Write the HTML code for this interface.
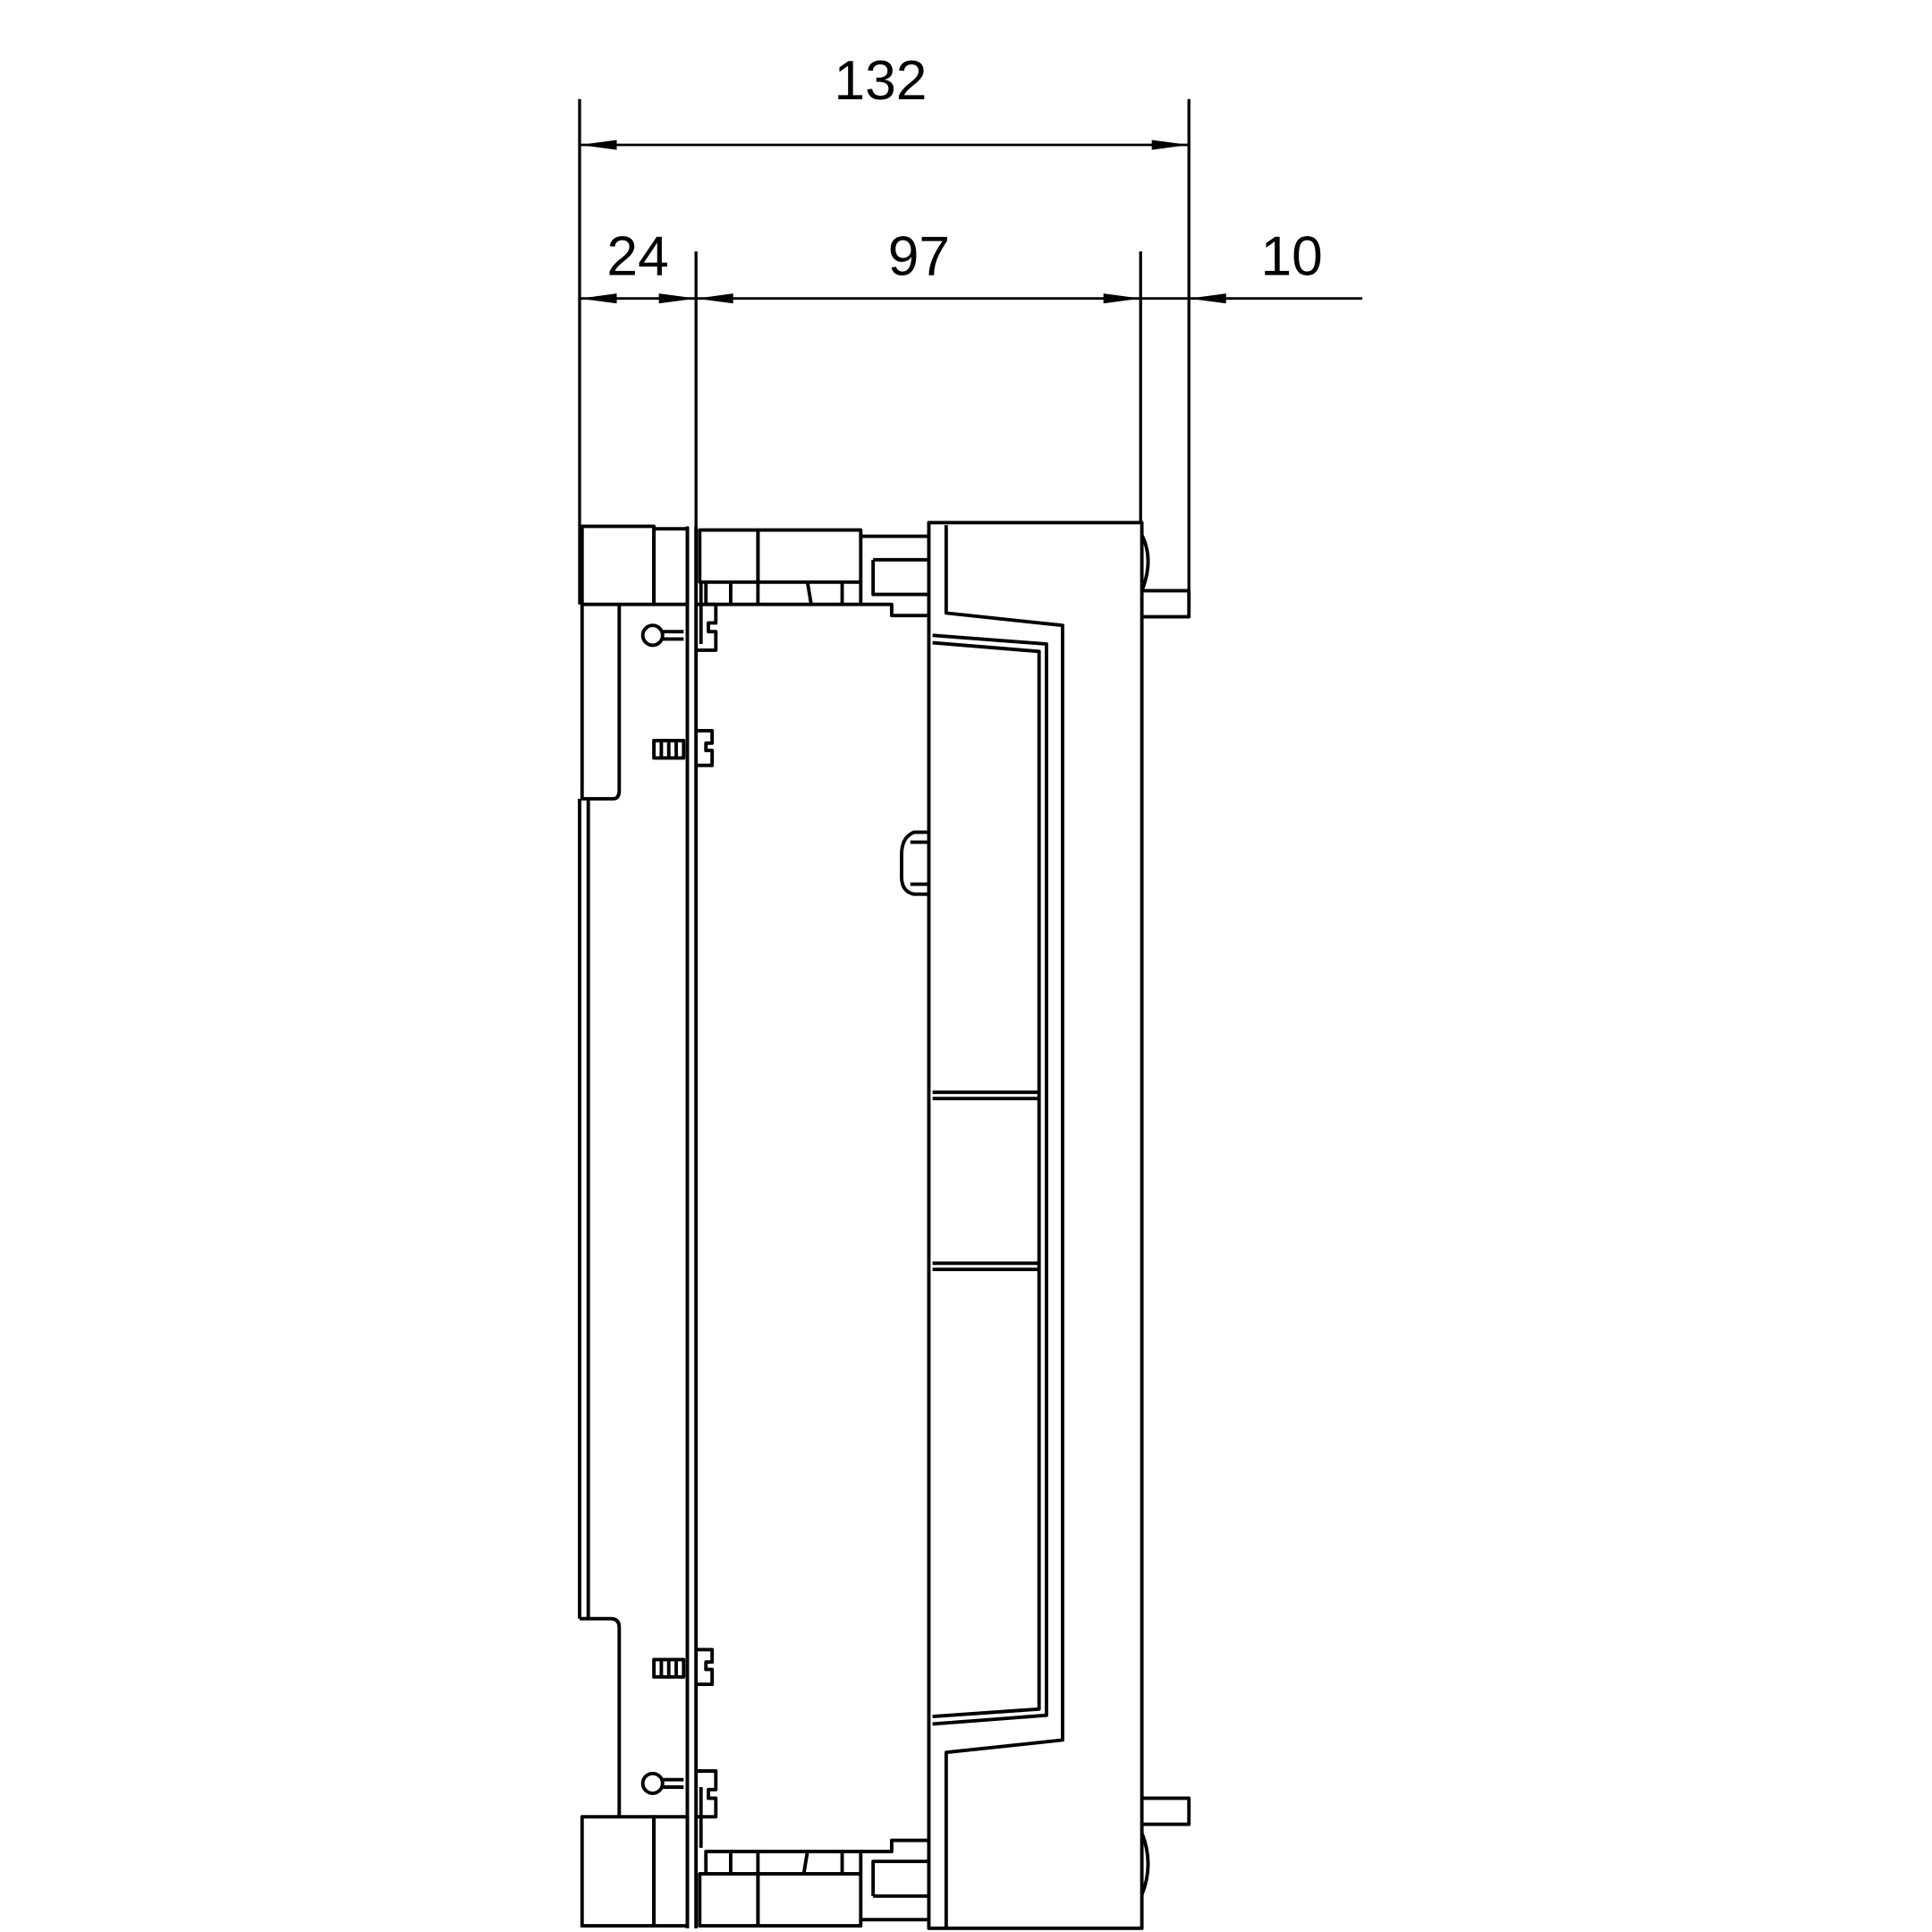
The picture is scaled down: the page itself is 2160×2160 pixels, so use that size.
<!DOCTYPE html>
<html><head><meta charset="utf-8"><style>
html,body{margin:0;padding:0;background:#fff;}
svg{display:block;}
text{font-family:"Liberation Sans","DejaVu Sans",sans-serif;font-size:45px;fill:#000;}
</style></head><body>
<svg width="2160" height="2160" viewBox="0 0 1560 1560" xmlns="http://www.w3.org/2000/svg">
<g fill="none" stroke="#000" stroke-width="2.4" stroke-linejoin="round">
<line x1="468" y1="80" x2="468" y2="488"/>
<line x1="960" y1="80" x2="960" y2="498"/>
<line x1="562" y1="203" x2="562" y2="425"/>
<line x1="921" y1="203" x2="921" y2="422"/>
<line x1="468" y1="117" x2="960" y2="117" stroke-width="2"/>
<line x1="468" y1="241" x2="1100" y2="241" stroke-width="2"/>
</g>
<g fill="#000" stroke="none">
<polygon points="468,117 498,113 498,121"/>
<polygon points="960,117 930,113 930,121"/>
<polygon points="468,241 498,237 498,245"/>
<polygon points="562,241 532,237 532,245"/>
<polygon points="562,241 592,237 592,245"/>
<polygon points="921,241 891,237 891,245"/>
<polygon points="960,241 990,237 990,245"/>
</g>
<text x="711" y="80" text-anchor="middle">132</text>
<text x="515" y="222" text-anchor="middle">24</text>
<text x="742" y="222" text-anchor="middle">97</text>
<text x="1043" y="222" text-anchor="middle">10</text>

<g fill="none" stroke="#000" stroke-width="2.8" stroke-linejoin="round">
<rect x="470" y="425" width="58" height="63"/>
<rect x="528" y="427" width="27" height="61"/>
<path d="M470 488 V645 H495 Q500 645 500 638 V488"/>
<line x1="468" y1="645" x2="468" y2="1307"/>
<line x1="475" y1="645" x2="475" y2="1307"/>
<path d="M468 1307 H493 Q500 1307 500 1314 V1467"/>
<rect x="470" y="1467" width="58" height="88"/>
<rect x="528" y="1467" width="27" height="88"/>
<line x1="555" y1="425" x2="555" y2="1557"/>
<line x1="562" y1="425" x2="562" y2="1557"/>
<line x1="566" y1="470" x2="566" y2="520"/>
<line x1="566" y1="1443" x2="566" y2="1492"/>
<circle cx="527" cy="513" r="8"/>
<path d="M535 510 H552 M535 516 H552"/>
<path d="M562 488 H578 V503 H572 V510 H578 V525 H562"/>
<circle cx="527" cy="1440" r="8"/>
<path d="M535 1437 H552 M535 1443 H552"/>
<path d="M562 1430 H578 V1445 H572 V1452 H578 V1467 H562"/>
<path d="M528 598 H552 V612 H528 Z M534 598 V612 M540 598 V612 M546 598 V612"/>
<path d="M562 590 H575 V600 H570 V606 H575 V618 H562"/>
<path d="M528 1340 H552 V1354 H528 Z M534 1340 V1354 M540 1340 V1354 M546 1340 V1354"/>
<path d="M562 1332 H575 V1342 H570 V1348 H575 V1360 H562"/>
<rect x="565" y="428" width="47" height="42"/>
<rect x="612" y="428" width="83" height="42"/>
<path d="M570 470 V488 H695 V470 M590 470 V488 M612 470 V488 M652 470 L655 488 M680 470 V488"/>
<path d="M695 433 H750 M705 452 H750 M705 452 V480 H750 M695 488 H720 V497 H750"/>
<rect x="565" y="1513" width="47" height="42"/>
<rect x="612" y="1513" width="83" height="42"/>
<path d="M570 1513 V1495 H695 V1513 M590 1495 V1513 M612 1495 V1513 M652 1495 L649 1513 M680 1495 V1513"/>
<path d="M695 1550 H750 M705 1531 H750 M705 1531 V1503 H750 M695 1495 H720 V1486 H750"/>
<path d="M750 422 L922 422 L922 1557 L750 1557 Z"/>
<path d="M764 424 V495 L858 505 V1405 L764 1415 V1557"/>
<path d="M753 513 L845 520 V1385 L753 1392"/>
<path d="M753 519 L839 526 V1380 L753 1386"/>
<path d="M753 882 H839 M753 887 H839 M753 1020 H839 M753 1025 H839"/>
<path d="M750 672 H738 Q728 676 728 690 V708 Q728 720 738 722 H750 M735 680 H750 M735 714 H750"/>
<path d="M922 477 H960 V498 H922"/>
<path d="M922 432 Q932 452 922 477"/>
<path d="M922 1452 H960 V1473 H922"/>
<path d="M922 1480 Q932 1505 922 1530"/>
</g>
</svg>
</body></html>
